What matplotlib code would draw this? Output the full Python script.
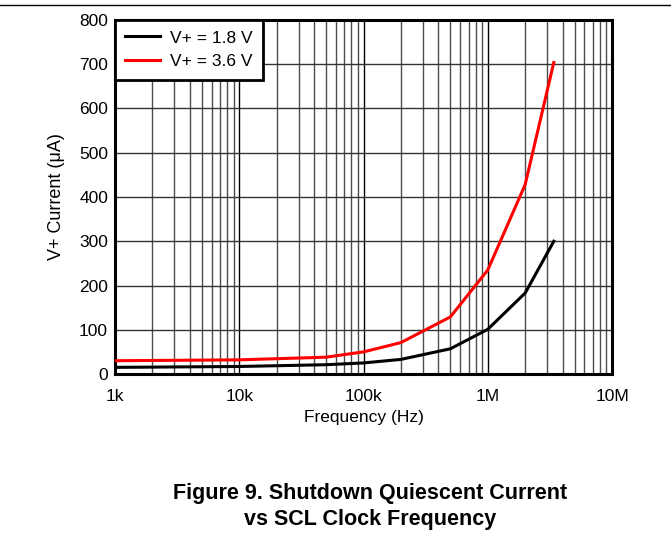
import matplotlib
matplotlib.use('Agg')
import matplotlib.pyplot as plt
from matplotlib.ticker import LogLocator, FixedLocator, NullFormatter
from matplotlib.lines import Line2D

plt.rcParams['font.family'] = ['Liberation Sans', 'DejaVu Sans']

# data
freq_hz = [1e3, 1e4, 5e4, 1e5, 2e5, 5e5, 1e6, 2e6, 3.4e6]
i_18v = [15, 17, 21, 25, 33, 57, 101, 183, 300]
i_36v = [30, 32, 38, 50, 71, 129, 235, 428, 704]

x_ticks = [1e3, 1e4, 1e5, 1e6, 1e7]
x_labels = ['1k', '10k', '100k', '1M', '10M']
y_ticks = [0, 100, 200, 300, 400, 500, 600, 700, 800]

fig = plt.figure(figsize=(6.71, 5.33), dpi=100)
ax = fig.add_axes([0.1714, 0.2983, 0.7407, 0.6642])

ax.plot(freq_hz, i_18v, color='black', lw=2.2, label='V+ = 1.8 V', zorder=3)
ax.plot(freq_hz, i_36v, color='#ff0000', lw=2.2, label='V+ = 3.6 V', zorder=3)

ax.set_xscale('log')
ax.set_xlim(1e3, 1e7)
ax.set_ylim(0, 800)
ax.xaxis.set_major_locator(FixedLocator(x_ticks))
ax.set_xticks(x_ticks)
ax.set_xticklabels(x_labels)
ax.xaxis.set_minor_locator(LogLocator(base=10, subs=range(2, 10)))
ax.xaxis.set_minor_formatter(NullFormatter())
ax.set_yticks(y_ticks)

ax.grid(which='major', axis='x', color='black', lw=1.0)
ax.grid(which='minor', axis='x', color='0.3', lw=1.0)
ax.grid(which='major', axis='y', color='0.2', lw=1.0)
ax.set_axisbelow(True)

for s in ax.spines.values():
    s.set_linewidth(2.2)
    s.set_color('black')
ax.tick_params(which='both', length=0, labelsize=12.5)
ax.tick_params(axis='x', pad=11)
ax.tick_params(axis='y', pad=5)

ax.set_xlabel('Frequency (Hz)', fontsize=12.5, labelpad=4)
ax.set_ylabel('V+ Current (\u03bcA)', fontsize=13, labelpad=10)

leg = ax.legend(loc='upper left', fontsize=12.5, frameon=True, fancybox=False,
                borderaxespad=0, handlelength=2.0, handletextpad=0.55,
                borderpad=0.6, labelspacing=0.5)
leg.get_frame().set_edgecolor('black')
leg.get_frame().set_linewidth(2)
leg.get_frame().set_alpha(1)

# separator rule at top of page
fig.add_artist(Line2D([0, 1], [0.9906, 0.9906], color='black', lw=1,
                      transform=fig.transFigure))

fig.text(0.551, 0.0495, 'Figure 9. Shutdown Quiescent Current\nvs SCL Clock Frequency',
         ha='center', va='center', fontsize=15.5, fontweight='bold', linespacing=1.3)

fig.savefig('out.png', dpi=100)
